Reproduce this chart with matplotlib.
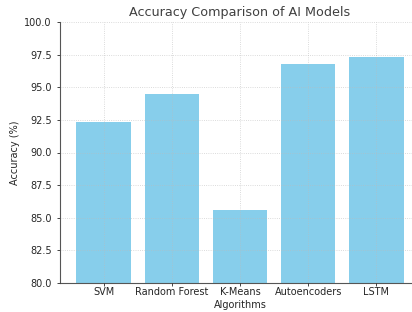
import matplotlib.pyplot as plt

# Model accuracies
algorithms = ['SVM', 'Random Forest', 'K-Means', 'Autoencoders', 'LSTM']
accuracy = [92.3, 94.5, 85.6, 96.8, 97.3]

text_color = '#262626'

fig = plt.figure(figsize=(4.12, 3.12), dpi=100)
ax = fig.add_axes([60 / 412, 29 / 312, 360 / 412, 261 / 312])

ax.bar(algorithms, accuracy, color='skyblue', width=0.8, zorder=1)

ax.set_xlim(-0.64, 4.64)
ax.set_ylim(80, 100)
ax.set_yticks([80, 82.5, 85, 87.5, 90, 92.5, 95, 97.5, 100])
ax.set_yticklabels(['80.0', '82.5', '85.0', '87.5', '90.0', '92.5', '95.0', '97.5', '100.0'])

ax.set_title('Accuracy Comparison of AI Models', fontsize=9.2, color='#404040', pad=4)
ax.set_xlabel('Algorithms', fontsize=7, color=text_color, labelpad=2.5)
ax.set_ylabel('Accuracy (%)', fontsize=7, color=text_color, labelpad=3)

ax.tick_params(axis='both', labelsize=7, colors=text_color, length=2.5, width=0.6)
ax.tick_params(axis='x', length=2, pad=0.8)

# grid sits on top of the bars, faint
ax.grid(True, linestyle=':', linewidth=0.6, color='#bbbbbb', alpha=0.7, zorder=3)
ax.set_axisbelow(False)
for side in ['top', 'right']:
    ax.spines[side].set_visible(False)
for side in ['left', 'bottom']:
    ax.spines[side].set_color('#555555')
    ax.spines[side].set_linewidth(0.8)

plt.savefig('out.png', dpi=100)
